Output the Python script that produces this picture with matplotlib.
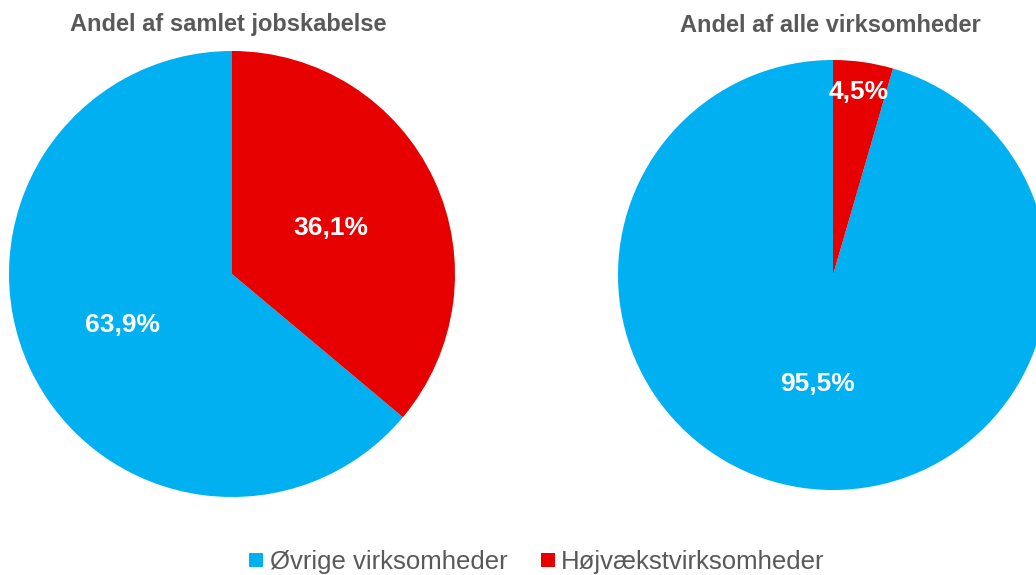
import matplotlib.pyplot as plt
from matplotlib.lines import Line2D
import numpy as np

plt.rcParams['font.family'] = ['Liberation Sans', 'DejaVu Sans']

categories = ['Øvrige virksomheder', 'Højvækstvirksomheder']
jobs_share = [63.9, 36.1]
firms_share = [95.5, 4.5]
titles = ['Andel af samlet jobskabelse', 'Andel af alle virksomheder']
colors = ['#00B0F0', '#E60000']
grey = '#595959'

W, H = 1036, 575
fig = plt.figure(figsize=(W / 100, H / 100), dpi=100)


def draw_pie(box, values, dists):
    # box in pixels: left, top, diameter
    l, t, d = box
    ax = fig.add_axes([l / W, (H - t - d) / H, d / W, d / H])
    ax.pie(values, colors=colors, startangle=90, radius=1,
           wedgeprops=dict(linewidth=0))
    start = 90
    for v, dist in zip(values, dists):
        mid = np.deg2rad(start + v * 3.6 / 2)
        start += v * 3.6
        ax.text(dist * np.cos(mid), dist * np.sin(mid),
                ('%.1f%%' % v).replace('.', ','), color='white',
                fontsize=19, fontweight='bold', ha='center', va='center')
    ax.set_xlim(-1, 1)
    ax.set_ylim(-1, 1)
    ax.set_aspect('equal')
    ax.axis('off')
    return ax


draw_pie((9, 51, 446), jobs_share, [0.54, 0.49])
draw_pie((618, 60, 430), firms_share, [0.51, 0.86])

fig.text(228 / W, 1 - 25 / H, titles[0], ha='center', va='center',
         fontsize=17, fontweight='bold', color=grey)
fig.text(830 / W, 1 - 25 / H, titles[1], ha='center', va='center',
         fontsize=17, fontweight='bold', color=grey)

handles = [Line2D([], [], marker='s', linestyle='none', markersize=10.5,
                  markerfacecolor=c, markeredgewidth=0) for c in colors]
leg = fig.legend(handles, categories, loc='center', ncol=2,
                 bbox_to_anchor=(537 / W, 1 - 562 / H), frameon=False,
                 fontsize=18.5, handlelength=0.55, handletextpad=0.25,
                 columnspacing=1.3, borderpad=0)
for t in leg.get_texts():
    t.set_color(grey)

fig.savefig('out.png', dpi=100)
